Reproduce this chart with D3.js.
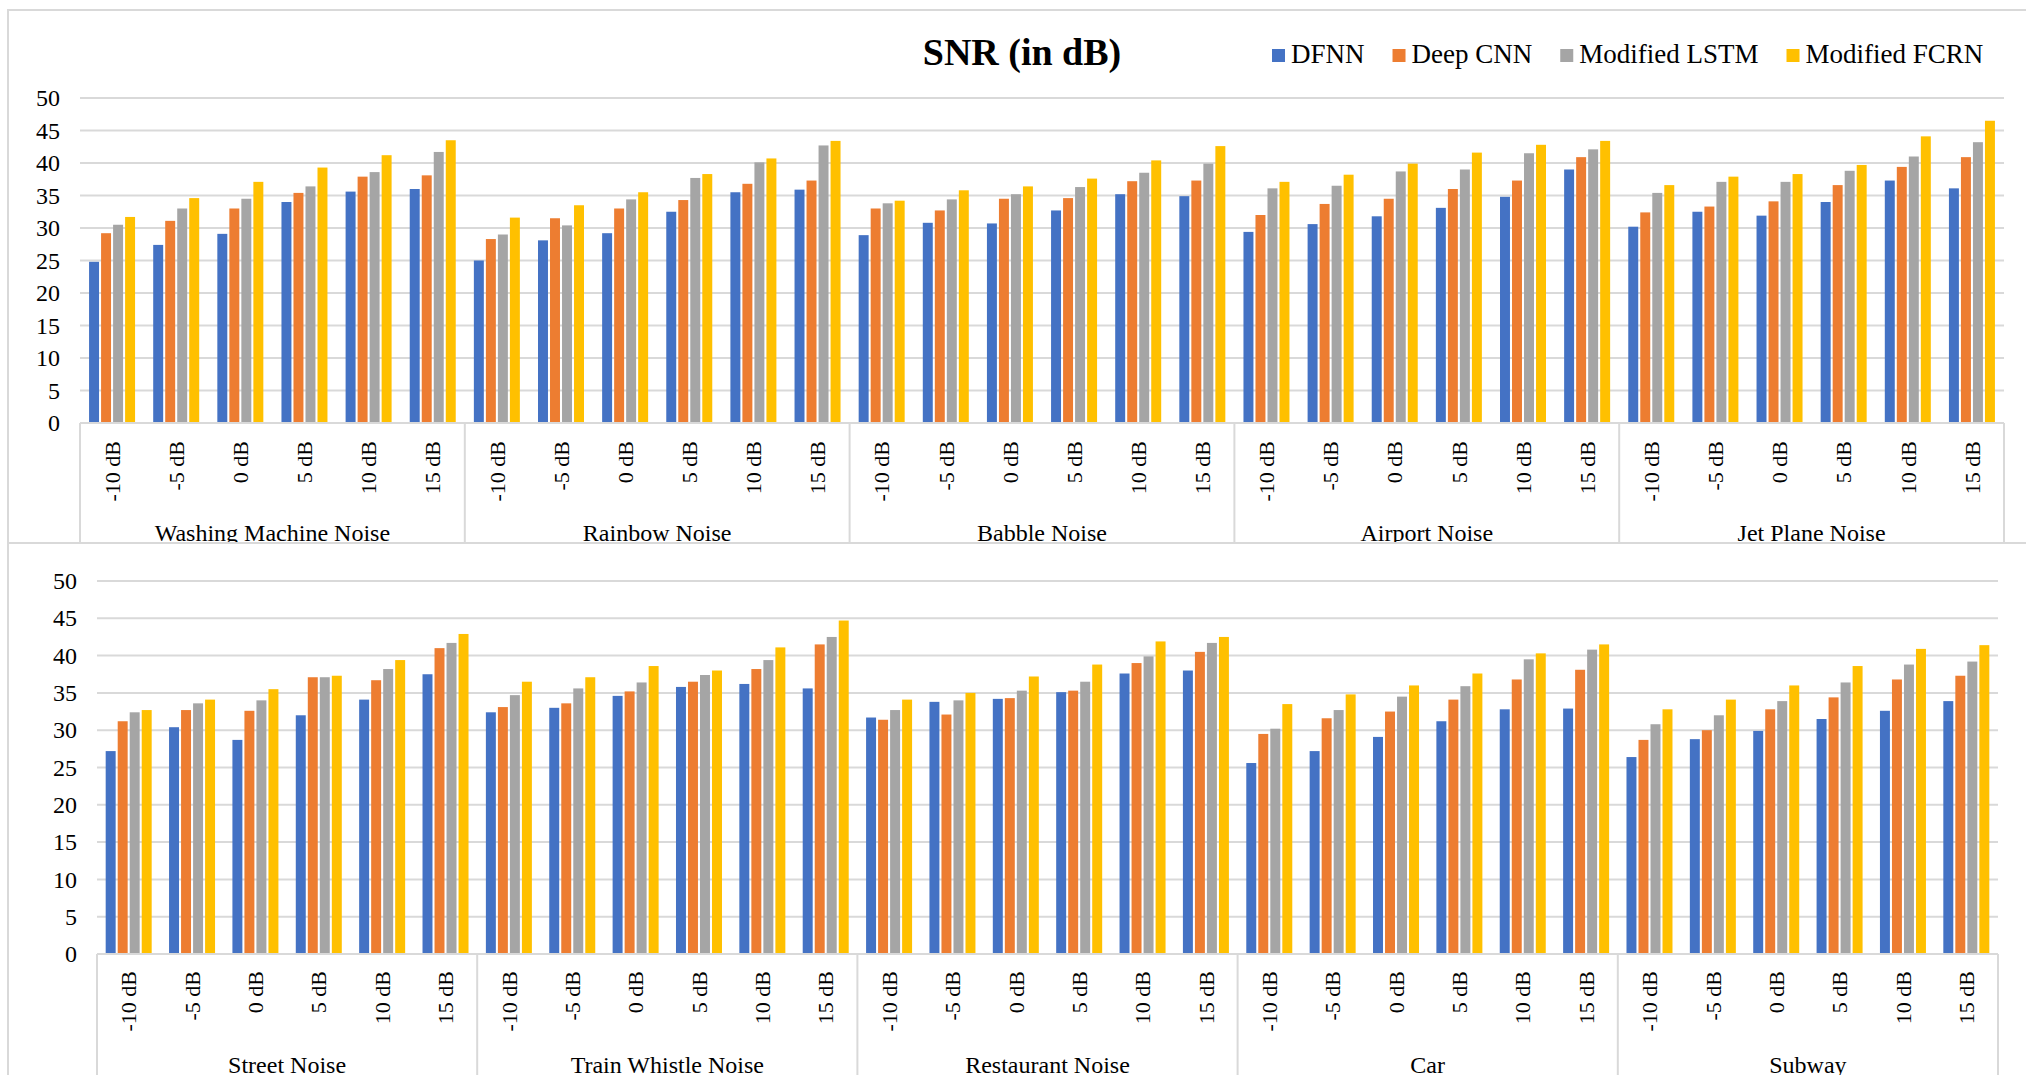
<!DOCTYPE html>
<html>
<head>
<meta charset="utf-8">
<script src="https://cdn.jsdelivr.net/npm/d3@7"></script>
<style>
  html, body { margin: 0; padding: 0; background: #fff; }
  svg { display: block; }
  text { font-family: "Liberation Serif", "Times New Roman", serif; fill: #000; }
</style>
</head>
<body>
<svg id="chart" width="2026" height="1075"></svg>
<script>
// Series and categories
const series = ["DFNN", "Deep CNN", "Modified LSTM", "Modified FCRN"];
const colors = ["#4472C4", "#ED7D31", "#A5A5A5", "#FFC000"];
const levels = ["-10 dB", "-5 dB", "0 dB", "5 dB", "10 dB", "15 dB"];
const yTicks = [0, 5, 10, 15, 20, 25, 30, 35, 40, 45, 50];

const topGroups = ["Washing Machine Noise", "Rainbow Noise", "Babble Noise", "Airport Noise", "Jet Plane Noise"];
const bottomGroups = ["Street Noise", "Train Whistle Noise", "Restaurant Noise", "Car", "Subway"];

// SNR (dB), six input levels per noise type, in group order
const dfnnTop = [24.8, 27.4, 29.1, 34.0, 35.6, 36.0,  25.0, 28.1, 29.2, 32.5, 35.5, 35.9,  28.9, 30.8, 30.7, 32.7, 35.2, 34.9,  29.4, 30.6, 31.8, 33.1, 34.8, 39.0,  30.2, 32.5, 31.9, 34.0, 37.3, 36.1];
const cnnTop  = [29.2, 31.1, 33.0, 35.4, 37.9, 38.1,  28.3, 31.5, 33.0, 34.3, 36.8, 37.3,  33.0, 32.7, 34.5, 34.6, 37.2, 37.3,  32.0, 33.7, 34.5, 36.0, 37.3, 40.9,  32.4, 33.3, 34.1, 36.6, 39.4, 40.9];
const lstmTop = [30.5, 33.0, 34.5, 36.4, 38.6, 41.7,  29.0, 30.4, 34.4, 37.7, 40.1, 42.7,  33.8, 34.4, 35.2, 36.3, 38.5, 39.9,  36.1, 36.5, 38.7, 39.0, 41.5, 42.1,  35.4, 37.1, 37.1, 38.8, 41.0, 43.2];
const fcrnTop = [31.7, 34.6, 37.1, 39.3, 41.2, 43.5,  31.6, 33.5, 35.5, 38.3, 40.7, 43.4,  34.2, 35.8, 36.4, 37.6, 40.4, 42.6,  37.1, 38.2, 39.9, 41.6, 42.8, 43.4,  36.6, 37.9, 38.3, 39.7, 44.1, 46.5];

const dfnnBottom = [27.2, 30.4, 28.7, 32.0, 34.1, 37.5,  32.4, 33.0, 34.6, 35.8, 36.2, 35.6,  31.7, 33.8, 34.2, 35.1, 37.6, 38.0,  25.6, 27.2, 29.1, 31.2, 32.8, 32.9,  26.4, 28.8, 29.9, 31.5, 32.6, 33.9];
const cnnBottom  = [31.2, 32.7, 32.6, 37.1, 36.7, 41.0,  33.1, 33.6, 35.2, 36.5, 38.2, 41.5,  31.4, 32.1, 34.3, 35.3, 39.0, 40.5,  29.5, 31.6, 32.5, 34.1, 36.8, 38.1,  28.7, 30.0, 32.8, 34.4, 36.8, 37.3];
const lstmBottom = [32.4, 33.6, 34.0, 37.1, 38.2, 41.7,  34.7, 35.6, 36.4, 37.4, 39.4, 42.5,  32.7, 34.0, 35.3, 36.5, 39.9, 41.7,  30.2, 32.7, 34.5, 35.9, 39.5, 40.8,  30.8, 32.0, 33.9, 36.4, 38.8, 39.2];
const fcrnBottom = [32.7, 34.1, 35.5, 37.3, 39.4, 42.9,  36.5, 37.1, 38.6, 38.0, 41.1, 44.7,  34.1, 35.0, 37.2, 38.8, 41.9, 42.5,  33.5, 34.8, 36.0, 37.6, 40.3, 41.5,  32.8, 34.1, 36.0, 38.6, 40.9, 41.4];

const svg = d3.select("#chart");
const GRID = "#D9D9D9";
const SERIF = '"Liberation Serif", "Times New Roman", serif';

// One clustered column panel with a two-level category axis
function drawPanel(g, opt) {
  const { groups, values, left, right, top, bottom, labelTop, groupBaseline, lineBottom } = opt;

  const keys = [];
  groups.forEach((grp, gi) => levels.forEach((lv, li) => keys.push({ key: gi + "|" + li, grp, gi, lv, li })));

  const x0 = d3.scaleBand().domain(keys.map(k => k.key)).range([left, right]).padding(0);
  const cw = x0.bandwidth();
  const x1 = d3.scaleBand().domain(series).range([cw / 2 - 23, cw / 2 + 23]).paddingInner(0.17);
  const y = d3.scaleLinear().domain([0, 50]).range([bottom, top]);

  // gridlines
  g.append("g").selectAll("line").data(yTicks).join("line")
    .attr("x1", left).attr("x2", right)
    .attr("y1", d => y(d)).attr("y2", d => y(d))
    .attr("stroke", GRID).attr("stroke-width", 2);

  // y tick labels
  const yAxis = d3.axisLeft(y).tickValues(yTicks).tickSize(0).tickPadding(20);
  const ya = g.append("g").attr("transform", `translate(${left},0)`).call(yAxis)
    .attr("font-family", null).attr("font-size", null);
  ya.select(".domain").remove();
  ya.selectAll("text").style("font-family", SERIF).style("font-size", "24px").attr("fill", "#000");

  // bars
  const rows = keys.map((k, i) => ({ ...k, vals: values.map(v => v[i]) }));
  const cat = g.append("g").selectAll("g").data(rows).join("g")
    .attr("transform", d => `translate(${x0(d.key)},0)`);
  cat.selectAll("rect").data(d => d.vals.map((v, si) => ({ v, si })))
    .join("rect")
    .attr("x", d => x1(series[d.si]))
    .attr("width", x1.bandwidth())
    .attr("y", d => y(d.v))
    .attr("height", d => y(0) - y(d.v))
    .attr("fill", d => colors[d.si]);

  // category baseline and group dividers
  g.append("line").attr("x1", left).attr("x2", right).attr("y1", y(0)).attr("y2", y(0))
    .attr("stroke", GRID).attr("stroke-width", 2);
  const bounds = groups.map((_, gi) => x0(gi + "|0")).concat([right]);
  g.append("g").selectAll("line").data(bounds).join("line")
    .attr("x1", d => d).attr("x2", d => d)
    .attr("y1", y(0)).attr("y2", lineBottom)
    .attr("stroke", GRID).attr("stroke-width", 2);

  // level labels (rotated)
  g.append("g").selectAll("text").data(keys).join("text")
    .attr("transform", d => `translate(${x0(d.key) + cw / 2},${labelTop}) rotate(-90)`)
    .attr("text-anchor", "end")
    .attr("dy", "0.35em")
    .style("font-size", "22px")
    .text(d => d.lv);

  // group labels
  g.append("g").selectAll("text").data(groups).join("text")
    .attr("x", (d, gi) => (bounds[gi] + bounds[gi + 1]) / 2)
    .attr("y", groupBaseline)
    .attr("text-anchor", "middle")
    .style("font-size", "24px")
    .text(d => d);
}

// clip for the upper panel
svg.append("defs").append("clipPath").attr("id", "upperClip")
  .append("rect").attr("x", 0).attr("y", 0).attr("width", 2026).attr("height", 542);

const upper = svg.append("g").attr("clip-path", "url(#upperClip)");
upper.append("rect").attr("x", 8).attr("y", 10).attr("width", 2100).attr("height", 700)
  .attr("fill", "#fff").attr("stroke", GRID).attr("stroke-width", 2);

drawPanel(upper, {
  groups: topGroups,
  values: [dfnnTop, cnnTop, lstmTop, fcrnTop],
  left: 80, right: 2004, top: 98, bottom: 423,
  labelTop: 441, groupBaseline: 541, lineBottom: 560
});

// title
upper.append("text").attr("x", 1022).attr("y", 65).attr("text-anchor", "middle")
  .style("font-size", "38px").style("font-weight", "bold").text("SNR (in dB)");

// legend
const legend = upper.append("g").attr("transform", "translate(1272,0)");
let lx = 0;
series.forEach((s, i) => {
  const item = legend.append("g").attr("transform", `translate(${lx},0)`);
  item.append("rect").attr("x", 0).attr("y", 49).attr("width", 13).attr("height", 13).attr("fill", colors[i]);
  const t = item.append("text").attr("x", 19).attr("y", 63).style("font-size", "27px").text(s);
  lx += 19 + t.node().getComputedTextLength() + 28;
});

// lower panel
const lower = svg.append("g");
lower.append("rect").attr("x", 8).attr("y", 543).attr("width", 2100).attr("height", 700)
  .attr("fill", "#fff").attr("stroke", GRID).attr("stroke-width", 2);

drawPanel(lower, {
  groups: bottomGroups,
  values: [dfnnBottom, cnnBottom, lstmBottom, fcrnBottom],
  left: 97, right: 1998, top: 581, bottom: 954,
  labelTop: 971, groupBaseline: 1073, lineBottom: 1080
});
</script>
</body>
</html>
